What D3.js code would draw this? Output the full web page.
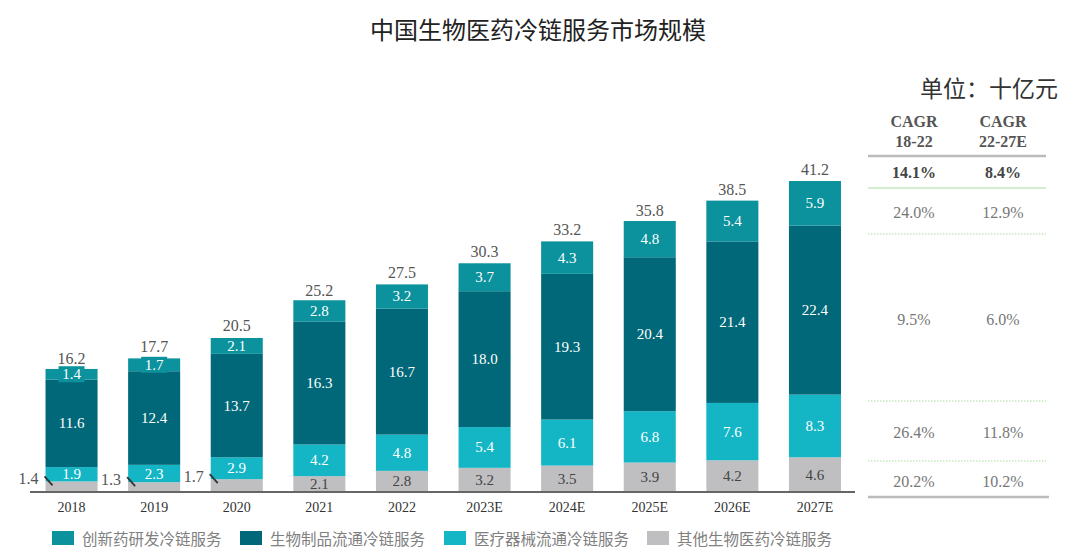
<!DOCTYPE html>
<html><head><meta charset="utf-8">
<script src="https://cdn.jsdelivr.net/npm/d3@7"></script>
<style>body{margin:0;background:#fff}svg{display:block}</style>
</head><body><svg id="c" width="1080" height="560"></svg>
<script>
const categories = ["2018","2019","2020","2021","2022","2023E","2024E","2025E","2026E","2027E"];
const seriesNames = ["其他生物医药冷链服务","医疗器械流通冷链服务","生物制品流通冷链服务","创新药研发冷链服务"];
const other   = [1.4,1.3,1.7,2.1,2.8,3.2,3.5,3.9,4.2,4.6];
const device  = [1.9,2.3,2.9,4.2,4.8,5.4,6.1,6.8,7.6,8.3];
const biologic= [11.6,12.4,13.7,16.3,16.7,18.0,19.3,20.4,21.4,22.4];
const rnd     = [1.4,1.7,2.1,2.8,3.2,3.7,4.3,4.8,5.4,5.9];
const totals  = [16.2,17.7,20.5,25.2,27.5,30.3,33.2,35.8,38.5,41.2];
const legendOrder = ["创新药研发冷链服务","生物制品流通冷链服务","医疗器械流通冷链服务","其他生物医药冷链服务"];
const cagrHeaders = [["CAGR","18-22"],["CAGR","22-27E"]];
const cagrTotal = ["14.1%","8.4%"];
const cagrRows = [["24.0%","12.9%"],["9.5%","6.0%"],["26.4%","11.8%"],["20.2%","10.2%"]];
const colors = {"其他生物医药冷链服务":"#bfbfc1","医疗器械流通冷链服务":"#14b6c6","生物制品流通冷链服务":"#006878","创新药研发冷链服务":"#0b929d"};

const svg = d3.select("#c");
const serif = "'Liberation Serif','DejaVu Serif',serif";
const cjk = "'Noto Sans CJK SC',sans-serif";

const x = d3.scaleBand().domain(categories).range([29,857.5]).paddingInner(0.37).paddingOuter(0.2);
const y = d3.scaleLinear().domain([0,41.2]).range([492,181]);

const rows = categories.map((c,i)=>({cat:c, "其他生物医药冷链服务":other[i], "医疗器械流通冷链服务":device[i], "生物制品流通冷链服务":biologic[i], "创新药研发冷链服务":rnd[i]}));
const stack = d3.stack().keys(seriesNames)(rows);

svg.append("text").attr("x",538).attr("y",39).attr("text-anchor","middle")
  .style("font-family",cjk).style("font-size","24px").attr("fill","#222").text("中国生物医药冷链服务市场规模");

const g = svg.append("g");
const gl = svg.append("g");
stack.forEach(layer=>{
  const key = layer.key;
  g.selectAll(null).data(layer).enter().append("rect")
    .attr("x",d=>x(d.data.cat)).attr("width",x.bandwidth())
    .attr("y",d=>y(d[1])).attr("height",d=>y(d[0])-y(d[1]))
    .attr("fill",colors[key]);
  layer.forEach((d,i)=>{
    const v = d[1]-d[0];
    const cx = x(d.data.cat)+x.bandwidth()/2;
    if(key==="其他生物医药冷链服务" && i<3){
      const bx = x(d.data.cat);
      gl.append("text").attr("x",bx-7).attr("y",y(d[1])+3).attr("text-anchor","end")
        .style("font-family",serif).style("font-size","16px").attr("fill","#555").text(v.toFixed(1));
      gl.append("line").attr("x1",bx-1).attr("y1",y(d[1])-5).attr("x2",bx+7).attr("y2",y(d[1])+4)
        .attr("stroke","#333").attr("stroke-width",1.8);
      return;
    }
    if(key==="创新药研发冷链服务" && i<2){
      gl.append("rect").attr("x",cx-13).attr("y",(y(d[0])+y(d[1]))/2-8).attr("width",26).attr("height",16).attr("fill",colors[key]);
    }
    gl.append("text").attr("x",cx).attr("y",(y(d[0])+y(d[1]))/2+5).attr("text-anchor","middle")
      .style("font-family",serif).style("font-size","15px")
      .attr("fill", key==="其他生物医药冷链服务" ? "#444" : "#fff").text(v.toFixed(1));
  });
});

gl.selectAll(null).data(categories).enter().append("text")
  .attr("x",d=>x(d)+x.bandwidth()/2).attr("y",(d,i)=>y(totals[i])-6).attr("text-anchor","middle")
  .style("font-family",serif).style("font-size","16px").attr("fill","#555").text((d,i)=>totals[i].toFixed(1));

const xAxis = d3.axisBottom(x).tickSize(0).tickPadding(10);
const ax = svg.append("g").attr("transform","translate(0,492)").call(xAxis);
ax.select(".domain").attr("stroke","#666").attr("stroke-width",2).attr("d","M30,0H855");
ax.selectAll("text").style("font-family",serif).style("font-size","14px").attr("fill","#333");

// legend
const legX = [52,240,444,647];
legendOrder.forEach((k,i)=>{
  svg.append("rect").attr("x",legX[i]).attr("y",531).attr("width",22).attr("height",14).attr("fill",colors[k]);
  svg.append("text").attr("x",legX[i]+30).attr("y",545).style("font-family",cjk).style("font-size","15.5px").attr("fill","#808080").text(k);
});

// table
const c1 = 914, c2 = 1003;
svg.append("text").attr("x",1058).attr("y",97).attr("text-anchor","end").style("font-family",cjk).style("font-size","23px").attr("fill","#333").text("单位：十亿元");
cagrHeaders.forEach((h,i)=>{
  const cx = i?c2:c1;
  svg.append("text").attr("x",cx).attr("y",127).attr("text-anchor","middle").style("font-family",serif).style("font-weight","bold").style("font-size","16px").attr("fill","#555").text(h[0]);
  svg.append("text").attr("x",cx).attr("y",147).attr("text-anchor","middle").style("font-family",serif).style("font-weight","bold").style("font-size","16px").attr("fill","#555").text(h[1]);
});
svg.append("line").attr("x1",868).attr("x2",1046).attr("y1",156).attr("y2",156).attr("stroke","#bbb").attr("stroke-width",2.5);
cagrTotal.forEach((t,i)=>{
  svg.append("text").attr("x",i?c2:c1).attr("y",178).attr("text-anchor","middle").style("font-family",serif).style("font-weight","bold").style("font-size","16px").attr("fill","#444").text(t);
});
svg.append("line").attr("x1",868).attr("x2",1046).attr("y1",188).attr("y2",188).attr("stroke","#a9dca0").attr("stroke-width",1.2);
const rowY = [218,325,438,487];
cagrRows.forEach((r,j)=>{
  r.forEach((t,i)=>{
    svg.append("text").attr("x",i?c2:c1).attr("y",rowY[j]).attr("text-anchor","middle").style("font-family",serif).style("font-size","16px").attr("fill","#777").text(t);
  });
});
[234,401,461].forEach(yy=>{
  svg.append("line").attr("x1",868).attr("x2",1046).attr("y1",yy).attr("y2",yy).attr("stroke","#a9dca0").attr("stroke-width",1).attr("stroke-dasharray","1.5,1.5");
});
svg.append("line").attr("x1",868).attr("x2",1049).attr("y1",497).attr("y2",497).attr("stroke","#bbb").attr("stroke-width",2.5);
</script></body></html>
